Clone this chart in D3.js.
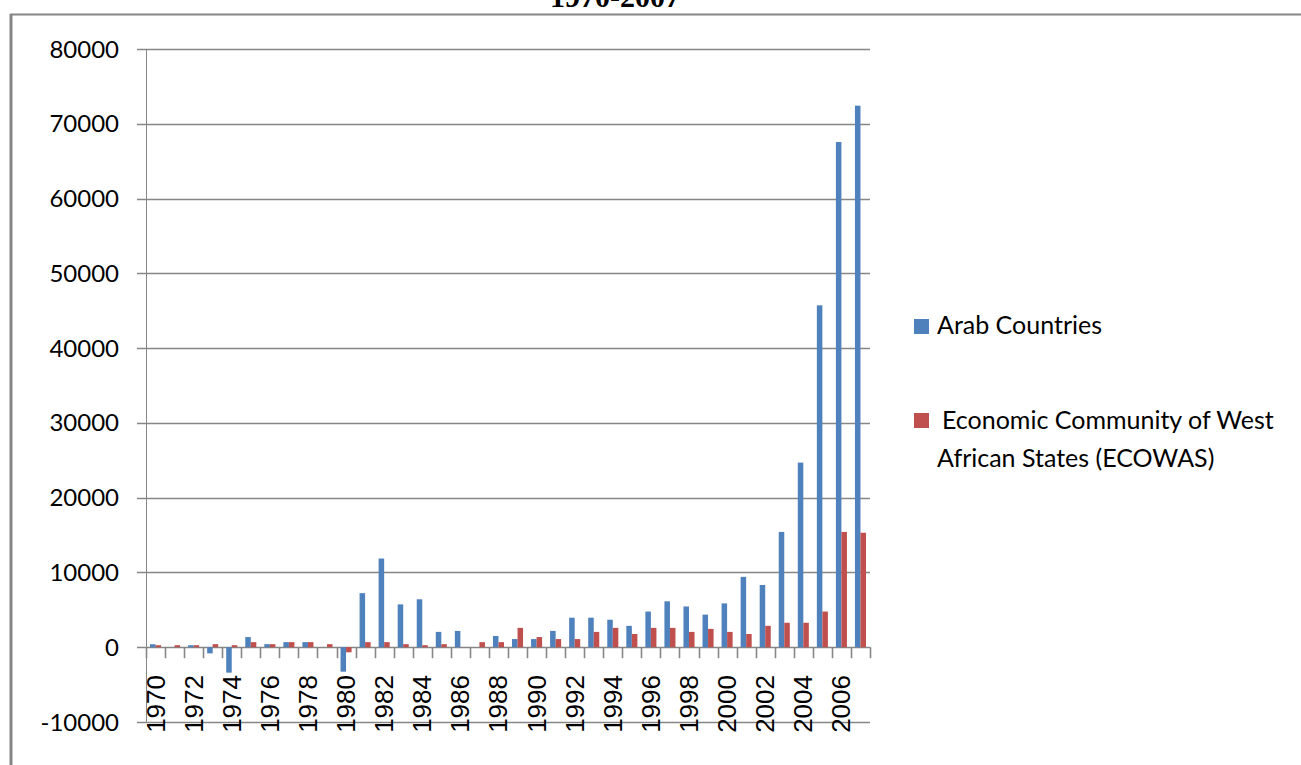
<!DOCTYPE html>
<html>
<head>
<meta charset="utf-8">
<script src="https://cdn.jsdelivr.net/npm/d3@7"></script>
<style>
  html, body { margin: 0; padding: 0; background: #fff; }
  svg { display: block; }
</style>
</head>
<body>
<div id="box"></div>
<script>
// categories
const years = d3.range(1970, 2008).map(String);

// series values
const arabCountries = [
  400, 0, 270, -820, -3400, 1360, 410, 680, 680, 0,
  -3270, 7230, 11860, 5730, 6410, 2050, 2180, 0, 1500, 1090,
  1090, 2180, 3950, 3950, 3680, 2860, 4770, 6140, 5450, 4360,
  5860, 9410, 8320, 15420, 24690, 45720, 67560, 72420
];
const ecowas = [
  270, 270, 270, 410, 270, 680, 410, 680, 680, 410,
  -680, 680, 680, 410, 270, 410, 0, 680, 680, 2590,
  1360, 1090, 1090, 2050, 2590, 1770, 2590, 2590, 2050, 2450,
  2050, 1770, 2860, 3270, 3270, 4770, 15420, 15310
];

const seriesNames = ["Arab Countries", "Economic Community of West African States (ECOWAS)"];
const seriesColors = ["#4F81BD", "#C0504D"];
const yTicks = d3.range(-10000, 80001, 10000);
const xLabelYears = years.filter((d, i) => i % 2 === 0);

const chart = {
  width: 1301,
  height: 765,
  left: 146,
  right: 870,
  top: 49,
  bottom: 722,
  gridColor: "#868686",

  /**
   * drawSvgBox 建一个svg
   */
  drawSvgBox(outerBox) {
    return d3.select(outerBox)
      .append("svg")
      .attr("width", this.width)
      .attr("height", this.height);
  },

  /**
   * drawFrame 外框和被截掉的标题
   */
  drawFrame(svg) {
    svg.append("text")
      .attr("x", 615)
      .attr("y", 7)
      .attr("text-anchor", "middle")
      .attr("font-family", "Liberation Serif, Times New Roman, serif")
      .attr("font-weight", "bold")
      .attr("font-size", 30)
      .text("1970-2007");

    svg.append("line")
      .attr("x1", 10).attr("y1", 14.5)
      .attr("x2", this.width).attr("y2", 14.5)
      .attr("stroke", this.gridColor)
      .attr("stroke-width", 2);

    svg.append("line")
      .attr("x1", 11).attr("y1", 14)
      .attr("x2", 11).attr("y2", this.height)
      .attr("stroke", this.gridColor)
      .attr("stroke-width", 3);
  },

  drawAxes(svg, x, y) {
    // 横向网格线 + 刻度
    svg.append("g")
      .selectAll("line")
      .data(yTicks)
      .enter()
      .append("line")
      .attr("x1", this.left - 9)
      .attr("x2", this.right)
      .attr("y1", d => Math.round(y(d)) + 0.5)
      .attr("y2", d => Math.round(y(d)) + 0.5)
      .attr("stroke", this.gridColor)
      .attr("stroke-width", 1.6);

    svg.append("g")
      .selectAll("text")
      .data(yTicks)
      .enter()
      .append("text")
      .attr("x", 119)
      .attr("y", d => y(d) + 8.5)
      .attr("text-anchor", "end")
      .attr("font-family", "Lato, sans-serif")
      .attr("font-size", 24)
      .attr("fill", "#000")
      .text(d => d);

    // 纵轴
    svg.append("line")
      .attr("x1", this.left + 0.5).attr("x2", this.left + 0.5)
      .attr("y1", this.top).attr("y2", this.bottom)
      .attr("stroke", this.gridColor)
      .attr("stroke-width", 1);

    // 分类边界刻度
    let bounds = years.map(d => x(d) - x.step() * x.paddingOuter());
    bounds.push(this.right);
    svg.append("g")
      .selectAll("line")
      .data(bounds)
      .enter()
      .append("line")
      .attr("x1", d => Math.round(d) + 0.5)
      .attr("x2", d => Math.round(d) + 0.5)
      .attr("y1", y(0))
      .attr("y2", y(0) + 11)
      .attr("stroke", this.gridColor)
      .attr("stroke-width", 1.6);

    // 年份标签，竖排
    svg.append("g")
      .selectAll("text")
      .data(xLabelYears)
      .enter()
      .append("text")
      .attr("transform", d => `translate(${x(d) + x.bandwidth() / 2 + 9},675) rotate(-90)`)
      .attr("text-anchor", "end")
      .attr("font-family", "Liberation Sans, Arial, sans-serif")
      .attr("font-size", 26)
      .attr("fill", "#000")
      .text(d => d);
  },

  drawBars(svg, x, y) {
    let sub = d3.scaleBand()
      .domain([0, 1])
      .range([0, x.bandwidth()]);

    let rows = years.map((d, i) => ({ year: d, values: [arabCountries[i], ecowas[i]] }));

    svg.append("g")
      .selectAll("g")
      .data(rows)
      .enter()
      .append("g")
      .attr("transform", d => `translate(${x(d.year)},0)`)
      .selectAll("rect")
      .data(d => d.values)
      .enter()
      .append("rect")
      .attr("x", (d, i) => sub(i))
      .attr("width", sub.bandwidth())
      .attr("y", d => y(Math.max(0, d)))
      .attr("height", d => Math.abs(y(d) - y(0)))
      .attr("fill", (d, i) => seriesColors[i]);
  },

  drawLegend(svg) {
    let g = svg.append("g").attr("font-family", "Lato, sans-serif").attr("font-size", 25);

    g.selectAll("rect")
      .data(seriesColors)
      .enter()
      .append("rect")
      .attr("x", 914)
      .attr("y", (d, i) => i === 0 ? 319 : 413)
      .attr("width", 15)
      .attr("height", 15)
      .attr("fill", d => d);

    g.append("text").attr("x", 937).attr("y", 334).text(seriesNames[0]);
    let t = g.append("text").attr("x", 942).attr("y", 429);
    t.append("tspan").attr("x", 942).text("Economic Community of West");
    t.append("tspan").attr("x", 937).attr("dy", 38).text("African States (ECOWAS)");
  }
};

let svg = chart.drawSvgBox("#box");

let x = d3.scaleBand()
  .domain(years)
  .range([chart.left, chart.right])
  .paddingInner(0.42)
  .paddingOuter(0.21);

let y = d3.scaleLinear()
  .domain([-10000, 80000])
  .range([chart.bottom, chart.top]);

chart.drawFrame(svg);
chart.drawAxes(svg, x, y);
chart.drawBars(svg, x, y);
chart.drawLegend(svg);
</script>
</body>
</html>
